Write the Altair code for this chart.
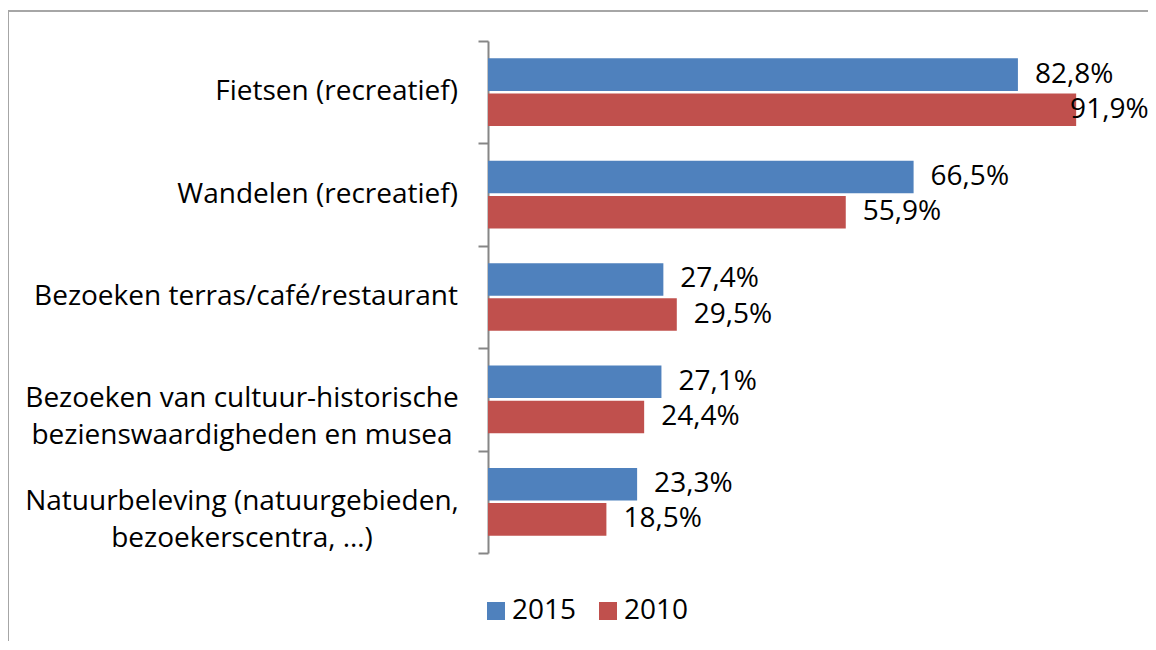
import altair as alt
import pandas as pd

categories = [
    "Fietsen (recreatief)",
    "Wandelen (recreatief)",
    "Bezoeken terras/café/restaurant",
    "Bezoeken van cultuur-historische|bezienswaardigheden en musea",
    "Natuurbeleving (natuurgebieden,|bezoekerscentra, …)",
]
values_2015 = [82.8, 66.5, 27.4, 27.1, 23.3]
values_2010 = [91.9, 55.9, 29.5, 24.4, 18.5]
series = ["2015", "2010"]
colors = ["#4F81BD", "#C0504D"]

FONT = "Open Sans"


def fmt(v):
    return f"{v:.1f}%".replace(".", ",")


rows = []
for c, a, b in zip(categories, values_2015, values_2010):
    rows.append({"cat": c, "year": "2015", "v": a, "label": fmt(a)})
    rows.append({"cat": c, "year": "2010", "v": b, "label": fmt(b)})
df = pd.DataFrame(rows)
cat_df = pd.DataFrame({"cat": categories})

x_scale = alt.Scale(domain=[0, 100])

y_enc = alt.Y(
    "cat:N",
    sort=categories,
    scale=alt.Scale(paddingInner=0, paddingOuter=0),
    axis=alt.Axis(
        title=None,
        labels=False,
        tickBand="extent",
        domainColor="#868686",
        domainWidth=2,
        tickColor="#868686",
        tickWidth=2,
        tickSize=10,
    ),
)

bars = alt.Chart(df).mark_bar().encode(
    y=y_enc,
    yOffset=alt.YOffset(
        "year:N",
        sort=series,
        scale=alt.Scale(paddingInner=0.074, paddingOuter=0.494),
    ),
    x=alt.X("v:Q", scale=x_scale, axis=None),
    color=alt.Color(
        "year:N",
        scale=alt.Scale(domain=series, range=colors),
        legend=alt.Legend(
            orient="none",
            legendX=-6,
            legendY=556,
            direction="horizontal",
            title=None,
            symbolType="square",
            symbolSize=324,
            symbolStrokeWidth=0,
            labelFont=FONT,
            labelFontSize=28,
            labelColor="black",
            labelOffset=2,
            columnPadding=17,
            padding=0,
        ),
    ),
)

texts = alt.Chart(df).mark_text(
    align="left", baseline="middle", dx=17, font=FONT, fontSize=28, color="black"
).transform_calculate(xpos="min(datum.v, 88.3)").encode(
    y=alt.Y("cat:N", sort=categories),
    yOffset=alt.YOffset("year:N", sort=series),
    x=alt.X("xpos:Q", scale=x_scale, axis=None),
    text="label:N",
)

single_labels = alt.Chart(cat_df).transform_filter(
    "indexof(datum.cat, '|') < 0"
).mark_text(
    align="right", baseline="middle", font=FONT, fontSize=28, color="black"
).encode(
    y=alt.Y("cat:N", sort=categories),
    x=alt.value(-30),
    text="cat:N",
)

multi_labels = alt.Chart(cat_df).transform_filter(
    "indexof(datum.cat, '|') >= 0"
).transform_calculate(
    lines="split(datum.cat, '|')"
).mark_text(
    align="center", baseline="middle", font=FONT, fontSize=28, color="black", lineHeight=37
).encode(
    y=alt.Y("cat:N", sort=categories),
    x=alt.value(-246),
    text="lines:N",
)

frame_top = alt.Chart(pd.DataFrame({"a": [0]})).mark_rule(
    color="#A6A6A6", strokeWidth=2
).encode(x=alt.value(-480), x2=alt.value(720), y=alt.value(-30))

frame_left = alt.Chart(pd.DataFrame({"a": [0]})).mark_rule(
    color="#A6A6A6", strokeWidth=2
).encode(x=alt.value(-480), y=alt.value(-30), y2=alt.value(720))

chart = alt.layer(frame_top, frame_left, bars, texts, single_labels, multi_labels).properties(
    width=640,
    height=512,
    autosize=alt.AutoSizeParams(type="none"),
    padding={"left": 480, "top": 33, "right": 20, "bottom": 88},
).configure_view(stroke=None)

chart.save("out.html", embed_options={"renderer": "svg", "actions": False})
